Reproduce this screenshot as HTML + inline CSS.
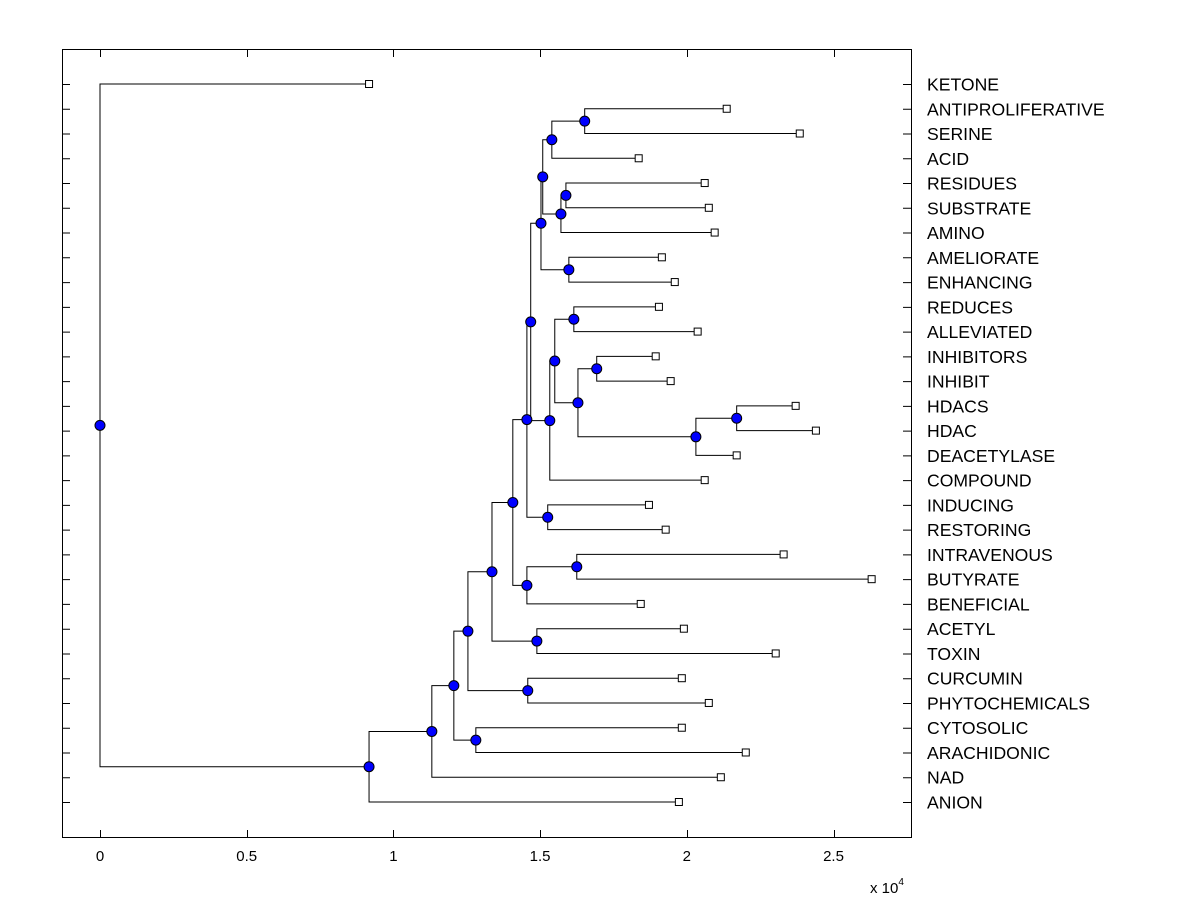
<!DOCTYPE html>
<html><head><meta charset="utf-8"><style>
body{margin:0;background:#fff;}
svg{display:block;font-family:"Liberation Sans",Arial,sans-serif;}
</style></head><body>
<svg id="chart" width="1200" height="900" viewBox="0 0 1200 900" xmlns="http://www.w3.org/2000/svg">
<rect x="0" y="0" width="1200" height="900" fill="#fff"/>
<g id="marks"></g>
<rect x="62.5" y="49.5" width="849" height="788" fill="none" stroke="#000" stroke-width="1"/>
<g id="axes"></g>
<text x="870" y="893" font-size="15">x 10<tspan dy="-8" font-size="10">4</tspan></text>
</svg>
<script>
const leafNames = ["KETONE","ANTIPROLIFERATIVE","SERINE","ACID","RESIDUES","SUBSTRATE","AMINO","AMELIORATE","ENHANCING","REDUCES","ALLEVIATED","INHIBITORS","INHIBIT","HDACS","HDAC","DEACETYLASE","COMPOUND","INDUCING","RESTORING","INTRAVENOUS","BUTYRATE","BENEFICIAL","ACETYL","TOXIN","CURCUMIN","PHYTOCHEMICALS","CYTOSOLIC","ARACHIDONIC","NAD","ANION"];
const leafValues = [0.917,2.136,2.385,1.836,2.061,2.075,2.095,1.915,1.959,1.905,2.037,1.894,1.945,2.371,2.440,2.170,2.061,1.871,1.928,2.330,2.630,1.843,1.990,2.303,1.983,2.075,1.983,2.201,2.116,1.973];
const nodeIds    = ["A","B","C","D","E","F","G","H","I","J","K","L","M","N","O","P","Q","R","S","T","U","V","W","X","Y","Z","AA","AB","ROOT"];
const nodeLeft   = ["ANTIPROLIFERATIVE","A","RESIDUES","C","B","AMELIORATE","E","REDUCES","INHIBITORS","HDACS","J","I","H","M","G","INDUCING","O","INTRAVENOUS","R","Q","ACETYL","T","CURCUMIN","V","CYTOSOLIC","X","Z","AA","KETONE"];
const nodeRight  = ["SERINE","ACID","SUBSTRATE","AMINO","D","ENHANCING","F","ALLEVIATED","INHIBIT","HDAC","DEACETYLASE","K","L","COMPOUND","N","RESTORING","P","BUTYRATE","BENEFICIAL","S","TOXIN","U","PHYTOCHEMICALS","W","ARACHIDONIC","Y","NAD","ANION","AB"];
const nodeHeights= [1.652,1.540,1.588,1.571,1.509,1.598,1.503,1.615,1.693,2.170,2.031,1.629,1.550,1.533,1.468,1.526,1.455,1.625,1.455,1.407,1.489,1.336,1.458,1.254,1.281,1.206,1.131,0.917,0];
const xTicks = [0,0.5,1,1.5,2,2.5];
const xTickLabels = ["0","0.5","1","1.5","2","2.5"];

const NS="http://www.w3.org/2000/svg";
const xs = v => 100 + v*293.4;
const ys = i => 84 + i*(802-84)/29;
const marks=document.getElementById('marks'), axes=document.getElementById('axes');
function mk(tag,attrs,parent){const e=document.createElementNS(NS,tag);for(const k in attrs)e.setAttribute(k,attrs[k]);parent.appendChild(e);return e;}

const pos={};
leafNames.forEach((n,i)=>{pos[n]={x:xs(leafValues[i]),y:ys(i)};});
const lines=mk('g',{},marks), dots=mk('g',{},marks);
nodeIds.forEach((id,k)=>{
  const a=pos[nodeLeft[k]], b=pos[nodeRight[k]], x=xs(nodeHeights[k]);
  pos[id]={x:x,y:(a.y+b.y)/2};
  const p=mk('path',{d:`M${a.x},${a.y}H${x}V${b.y}H${b.x}`,fill:'none',stroke:'#000','stroke-width':1},lines);
  
  
});
nodeIds.forEach(id=>{
  const c=mk('circle',{cx:pos[id].x,cy:pos[id].y,r:5,fill:'#0000ff',stroke:'#000','stroke-width':1},dots);
  
  
});
leafNames.forEach((n,i)=>{
  const r=mk('rect',{x:pos[n].x-3.5,y:ys(i)-3.5,width:7,height:7,fill:'#fff',stroke:'#000','stroke-width':1},dots);
  
  
  const t=mk('text',{x:927,y:ys(i)+6.5,'font-size':17.6},axes);
  t.textContent=n;
  
  
  const tk=mk('path',{d:`M62,${ys(i)+0.5}H70M903,${ys(i)+0.5}H911`,stroke:'#000','stroke-width':1},axes);
  
  
});
xTicks.forEach((v,i)=>{
  const x=Math.round(xs(v))+0.5;
  const tk=mk('path',{d:`M${x},838V830M${x},49V57`,stroke:'#000','stroke-width':1},axes);
  
  
  const t=mk('text',{x:xs(v),y:861,'font-size':15,'text-anchor':'middle'},axes);
  t.textContent=xTickLabels[i];
  
  
});
</script>
</body></html>
